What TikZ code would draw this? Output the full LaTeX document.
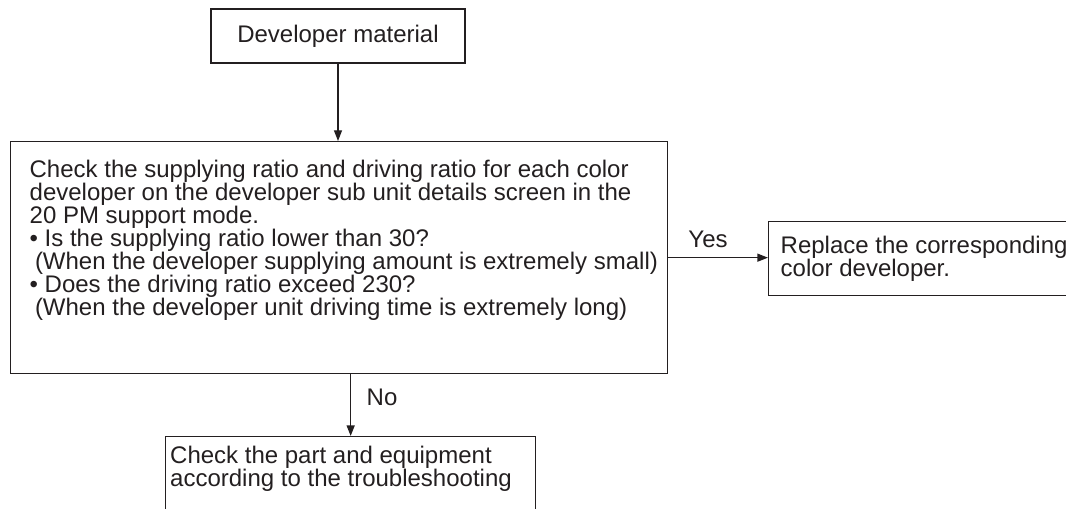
\documentclass[tikz,border=0pt]{standalone}
\usepackage{fontspec}
\setmainfont{Liberation Sans}
\usetikzlibrary{arrows.meta}
\definecolor{ink}{HTML}{231F20}
\begin{document}
\begin{tikzpicture}[x=0.75pt,y=-0.75pt,
  every node/.style={font=\fontsize{18pt}{17.25pt}\selectfont, text=ink},
  box/.style={draw=ink, line width=1pt, inner sep=0pt},
  arr/.style={draw=ink, line width=1pt, -{Triangle[length=8pt,width=6pt]}}]
\useasboundingbox (0,0) rectangle (1066,509);
\clip (0,0) rectangle (1066,509);

\node[box, minimum width=190.5pt, minimum height=40.5pt] (top) at (338,36) {Developer material};

\node[box, anchor=north west] (main) at (10,141) {\hspace*{14.25pt}\parbox[c][174pt][t]{478.5pt}{\raggedright\rule{0pt}{27.2pt}Check the supplying ratio and driving ratio for each color\\
developer on the developer sub unit details screen in the\\
20 PM support mode.\\
• Is the supplying ratio lower than 30?\\
\hspace*{4pt}(When the developer supplying amount is extremely small)\\
• Does the driving ratio exceed 230?\\
\hspace*{4pt}(When the developer unit driving time is extremely long)}};

\node[box, anchor=north west] (right) at (768,221) {\hspace*{9pt}\parbox[c][55.5pt][t]{232.5pt}{\raggedright\rule{0pt}{24pt}Replace the corresponding\\
color developer.}};

\node[box, anchor=north west] (bottom) at (165,436) {\hspace*{3.4pt}\parbox[c][75pt][t]{274.1pt}{\raggedright\rule{0pt}{20.25pt}Check the part and equipment\\
according to the troubleshooting}};

\draw[arr] (top.south) -- (top.south |- main.north);
\draw[arr] (main.east) -- (main.east -| right.west);
\draw[arr] (bottom.north |- main.south) -- (bottom.north);

\node[anchor=base] (yes) at (708,248) {Yes};
\node[anchor=base west] (no) at (362,405) {No};
\end{tikzpicture}
\end{document}
